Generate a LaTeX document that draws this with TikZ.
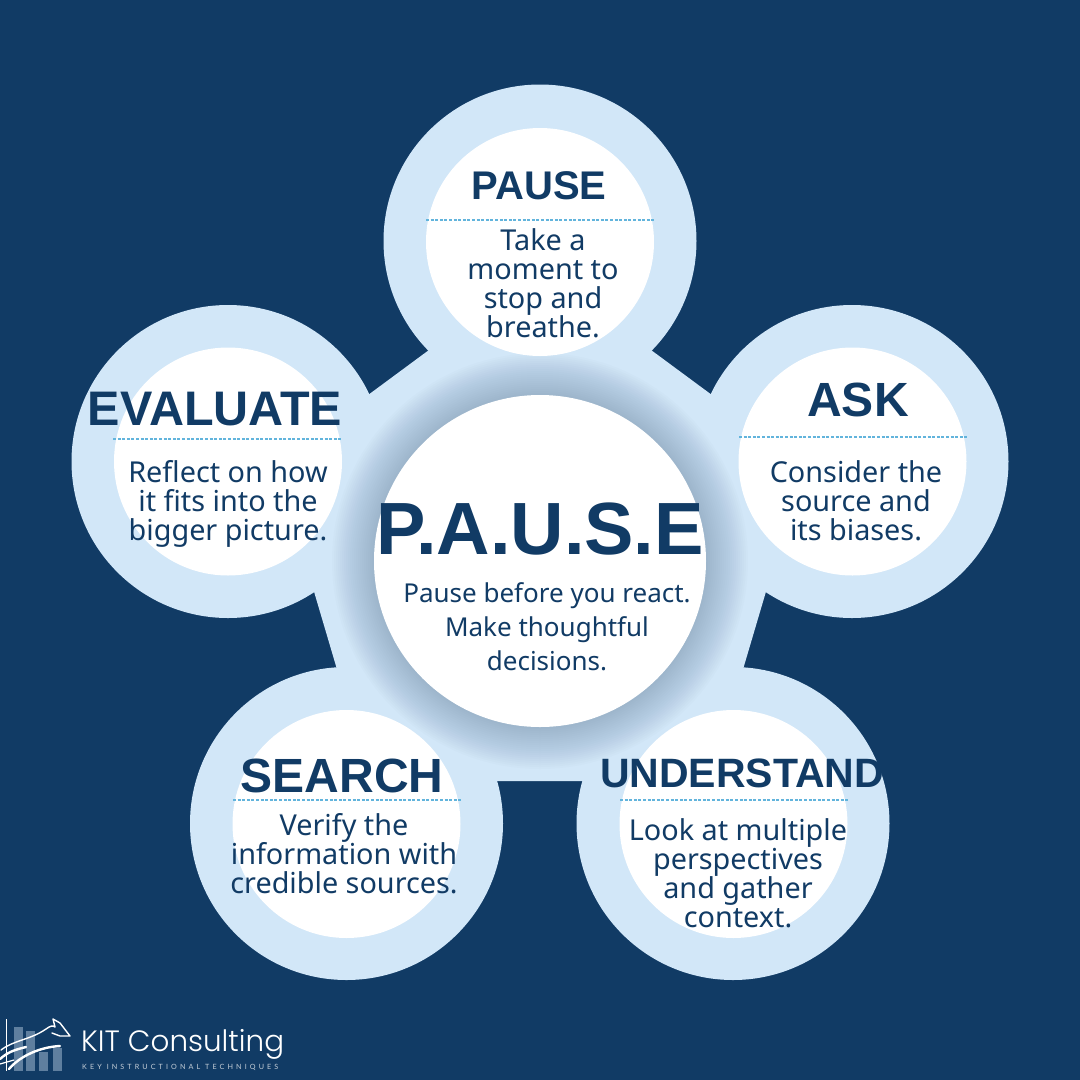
\documentclass[tikz,border=0pt]{standalone}
\usepackage{fontspec}
\setmainfont{Noto Sans}
\newfontfamily\headfont{Liberation Sans}
\newfontfamily\logofont{Poppins Light}
\newfontfamily\logotag[LetterSpace=43]{Lato}
\definecolor{navy}{HTML}{113B65}
\definecolor{pale}{HTML}{D2E7F8}
\definecolor{dash}{HTML}{62B4DC}
\definecolor{haze}{HTML}{5F7F9F}
\definecolor{barc}{HTML}{5F7F9F}
\tikzset{
 x=1pt,y=-1pt,
 ring/.style={circle,fill=pale,minimum size=313pt,inner sep=0},
 disc/.style={circle,fill=white,minimum size=228pt,inner sep=0},
 hub/.style={circle,fill=white,minimum size=332pt,inner sep=0},
 head/.style={text=navy,font=\headfont\bfseries\fontsize{#1}{#1}\selectfont,inner sep=0},
 body/.style={text=navy,align=center,font=\fontsize{28.8}{29}\selectfont,inner sep=0},
 rule/.style={draw=dash,line width=1.1pt,dash pattern=on 3pt off 1.6pt},
}
\begin{document}
\begin{tikzpicture}
\useasboundingbox (0,0) rectangle (1080,1080);
\fill[navy] (0,0) rectangle (1080,1080);
\node[ring] (r1) at (540,241) {};
\node[ring] (r2) at (852,461.5) {};
\node[ring] (r3) at (733,823.5) {};
\node[ring] (r4) at (346.5,823.5) {};
\node[ring] (r5) at (228,461.5) {};
\fill[pale] (540,268) -- (804,463) -- (710,781) -- (370,781) -- (276,463) -- cycle;
\foreach \r in {208,206,...,166}{\fill[haze,opacity=0.024] (540,561) circle (\r);}
\node[disc] (d1) at (540,242) {};
\node[disc] (d2) at (852.5,461.5) {};
\node[disc] (d3) at (733.5,824) {};
\node[disc] (d4) at (346.5,824) {};
\node[disc] (d5) at (228,461.5) {};
\node[hub] (hub) at (540,561) {};
\node[head=40] (t1) at (539,186) {PAUSE};
\draw[rule] (426,220) -- (654,220);
\node[body] (b1) at (543,283) {Take a\\moment to\\stop and\\breathe.};
\node[head=48] (t2) at (858,400) {ASK};
\draw[rule] (739,437) -- (967,437);
\node[body] (b2) at (856,501) {Consider the\\source and\\its biases.};
\node[head=41] (t3) at (742,773) {UNDERSTAND};
\draw[rule] (620,800) -- (848,800);
\node[body] (b3) at (738,873) {Look at multiple\\perspectives\\and gather\\context.};
\node[head=48] (t4) at (342,776) {SEARCH};
\draw[rule] (233,800) -- (461,800);
\node[body] (b4) at (344,854) {Verify the\\information with\\credible sources.};
\node[head=48.5] (t5) at (215,409) {EVALUATE};
\draw[rule] (113,439) -- (341,439);
\node[body] (b5) at (228,503.5) {Reflect on how\\it fits into the\\bigger picture.};
\node[head=74] (hubt) at (540,529) {P.A.U.S.E};
\node[text=navy,align=center,font=\fontsize{26}{34}\selectfont,inner sep=0] (hubb) at (547,627) {Pause before you react.\\Make thoughtful\\decisions.};
% logo
\foreach \x/\y in {14/1027,26/1031,39/1052,53/1048}{\fill[barc] (\x,\y) rectangle +(9,1071-\y);}
\draw[white,line width=1pt] (6,1019) -- (6,1071);
\draw[white,line width=1.4pt,line cap=round,line join=round] (1,1050) .. controls (14,1040) and (30,1040) .. (46,1029) .. controls (50,1026) and (53,1025) .. (55,1027) -- (53,1019) -- (60,1023) -- (70,1036) -- (60,1036) -- (52,1033);
\draw[white,line width=2.4pt,line cap=round] (0,1059) .. controls (8,1052) and (14,1050) .. (26,1047);
\draw[white,line width=1.2pt] (0,1064) -- (14,1060);
\draw[white,line width=2.4pt,line cap=round] (9,1069) .. controls (20,1056) and (40,1047) .. (60,1046);
\node[anchor=west,text=white,font=\logofont\fontsize{29.4}{29}\selectfont,inner sep=0] (logo) at (81,1044) {KIT Consulting};
\node[anchor=west,text=white!75!navy,font=\logotag\fontsize{7.2}{8}\selectfont,inner sep=0] (tag) at (82,1067) {KEY INSTRUCTIONAL TECHNIQUES};
\end{tikzpicture}
\end{document}
